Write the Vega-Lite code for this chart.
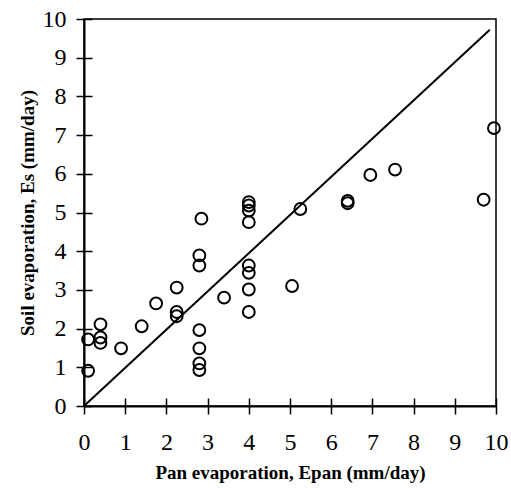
{
  "$schema": "https://vega.github.io/schema/vega-lite/v6.json",
  "width": 412,
  "height": 387,
  "autosize": "none",
  "padding": {"left": 84, "top": 19, "right": 15, "bottom": 82},
  "background": "white",
  "config": {
    "view": {"stroke": "black", "strokeWidth": 1.5},
    "axis": {
      "grid": false,
      "domainColor": "black",
      "domainWidth": 2,
      "tickColor": "black",
      "tickWidth": 1.5,
      "labelFont": "Liberation Serif",
      "labelFontSize": 24,
      "labelColor": "black",
      "titleFont": "Liberation Serif",
      "titleFontSize": 19,
      "titleFontWeight": "bold",
      "titleColor": "black"
    }
  },
  "datasets": {
    "pts": [
      {"epan": 0.1, "es": 0.91}, {"epan": 0.1, "es": 1.72},
      {"epan": 0.4, "es": 2.11}, {"epan": 0.4, "es": 1.77}, {"epan": 0.4, "es": 1.63},
      {"epan": 0.9, "es": 1.49},
      {"epan": 1.4, "es": 2.06},
      {"epan": 1.75, "es": 2.65},
      {"epan": 2.25, "es": 3.06}, {"epan": 2.25, "es": 2.43}, {"epan": 2.25, "es": 2.32},
      {"epan": 2.8, "es": 1.96}, {"epan": 2.8, "es": 1.49}, {"epan": 2.8, "es": 1.1}, {"epan": 2.8, "es": 0.93},
      {"epan": 2.8, "es": 3.63}, {"epan": 2.8, "es": 3.89},
      {"epan": 2.85, "es": 4.84},
      {"epan": 3.4, "es": 2.8},
      {"epan": 4.0, "es": 5.27}, {"epan": 4.0, "es": 5.18}, {"epan": 4.0, "es": 5.05}, {"epan": 4.0, "es": 4.75},
      {"epan": 4.0, "es": 3.63}, {"epan": 4.0, "es": 3.44}, {"epan": 4.0, "es": 3.01}, {"epan": 4.0, "es": 2.43},
      {"epan": 5.05, "es": 3.1},
      {"epan": 5.25, "es": 5.09},
      {"epan": 6.4, "es": 5.24}, {"epan": 6.4, "es": 5.3},
      {"epan": 6.95, "es": 5.97},
      {"epan": 7.55, "es": 6.11},
      {"epan": 9.7, "es": 5.33},
      {"epan": 9.95, "es": 7.18}
    ],
    "fit": [
      {"epan": 0, "es": 0},
      {"epan": 9.85, "es": 9.72}
    ]
  },
  "layer": [
    {
      "data": {"name": "fit"},
      "mark": {"type": "line", "color": "black", "strokeWidth": 2},
      "encoding": {
        "x": {"field": "epan", "type": "quantitative", "scale": {"domain": [0, 10], "nice": false},
              "axis": {"orient": "bottom", "labels": false, "title": null, "domain": false, "tickSize": -8, "values": [0,1,2,3,4,5,6,7,8,9,10]}},
        "y": {"field": "es", "type": "quantitative", "scale": {"domain": [0, 10], "nice": false},
              "axis": {"orient": "left", "labels": false, "title": null, "domain": false, "tickSize": -8, "values": [0,1,2,3,4,5,6,7,8,9,10]}}
      }
    },
    {
      "data": {"name": "pts"},
      "mark": {"type": "point", "shape": "circle", "filled": false, "stroke": "black", "strokeWidth": 2, "size": 140, "opacity": 1},
      "encoding": {
        "x": {"field": "epan", "type": "quantitative", "scale": {"domain": [0, 10], "nice": false},
              "axis": {"orient": "bottom", "title": "Pan evaporation, Epan  (mm/day)", "tickSize": 8, "labelPadding": 16, "titlePadding": 9, "values": [0,1,2,3,4,5,6,7,8,9,10], "labelFlush": false}},
        "y": {"field": "es", "type": "quantitative", "scale": {"domain": [0, 10], "nice": false},
              "axis": {"orient": "left", "title": "Soil evaporation, Es (mm/day)", "tickSize": 8, "labelPadding": 10, "titlePadding": 5, "values": [0,1,2,3,4,5,6,7,8,9,10], "labelFlush": false}}
      }
    }
  ],
  "resolve": {"scale": {"x": "independent", "y": "independent"}, "axis": {"x": "independent", "y": "independent"}}
}
